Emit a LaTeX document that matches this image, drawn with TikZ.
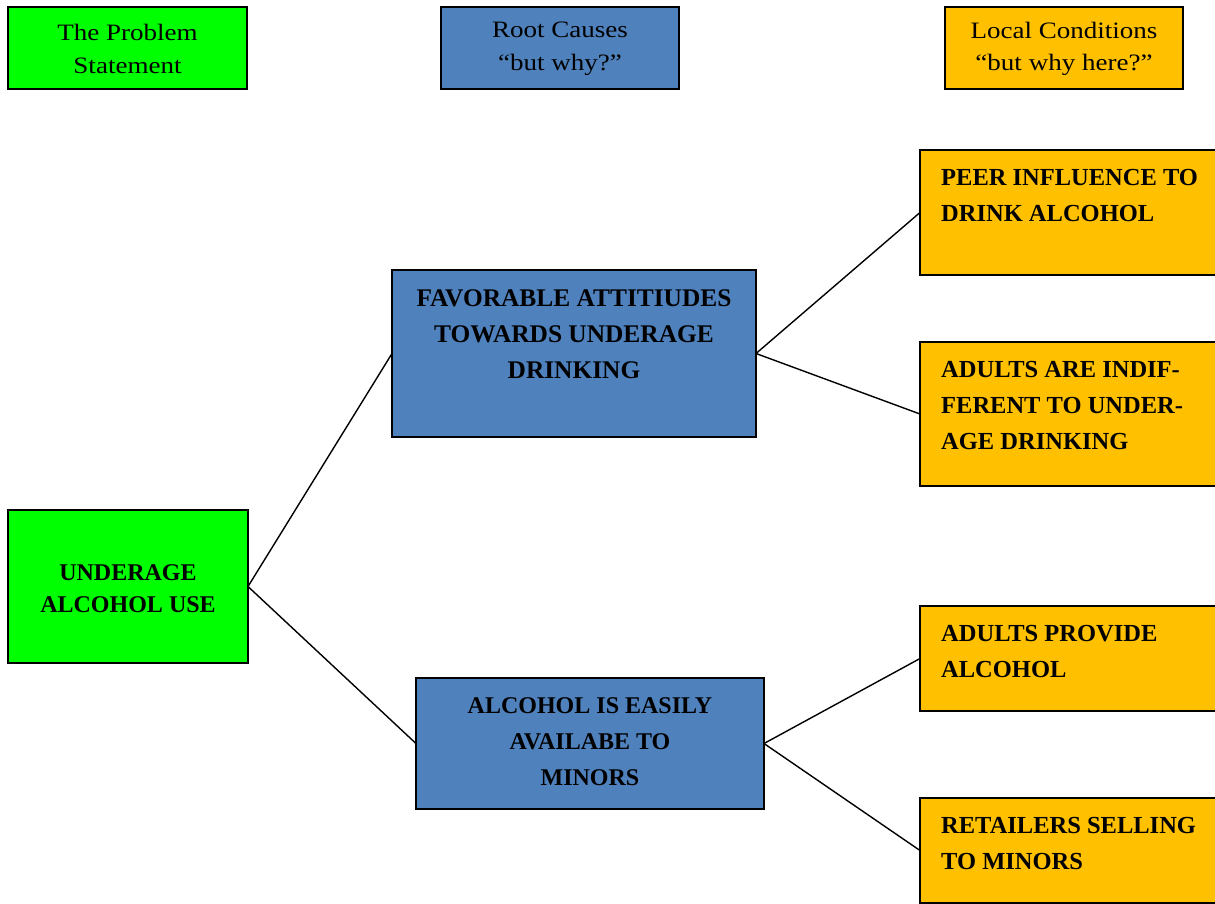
\documentclass[tikz,border=0pt]{standalone}
\usepackage{fontspec}
\setmainfont{Liberation Serif}
\newfontfamily\hdrfont[FakeStretch=1.15]{Liberation Serif}
\definecolor{cgreen}{HTML}{00FF00}
\definecolor{cblue}{HTML}{4F81BD}
\definecolor{corange}{HTML}{FFC000}
\tikzset{
  box/.style={draw=black, line width=2pt, inner sep=0pt, outer sep=0pt, anchor=north west},
  hdrtxt/.style={font=\hdrfont\fontsize{23.5}{32.5}\selectfont, align=center, inner sep=0pt},
  ctxt/.style={font=\bfseries\fontsize{24.5}{36}\selectfont, align=center, inner sep=0pt},
  ltxt/.style={font=\bfseries\fontsize{24.5}{36}\selectfont, align=left, inner sep=0pt, anchor=north west},
  conn/.style={line width=1.4pt, black},
}
\begin{document}
\begin{tikzpicture}[x=1pt,y=-1pt]
\useasboundingbox (0,0) rectangle (1215,903);
\clip (0,0) rectangle (1215,903);
% headers
\node[box, fill=cgreen, minimum width=239pt, minimum height=82pt] (h1) at (8,7) {};
\node[hdrtxt] (h1t) at ([yshift=-1pt]h1.center) {The Problem\\Statement};
\node[box, fill=cblue, minimum width=238pt, minimum height=82pt] (h2) at (441,7) {};
\node[hdrtxt] (h2t) at ([yshift=-1pt]h2.center) {Root Causes\\“but why?”};
\node[box, fill=corange, minimum width=238pt, minimum height=82pt] (h3) at (945,7) {};
\node[hdrtxt] (h3t) at ([yshift=-1pt]h3.center) {Local Conditions\\“but why here?”};
% main
\node[box, fill=cgreen, minimum width=240pt, minimum height=153pt] (main) at (8,510) {};
\node[ctxt, font=\bfseries\fontsize{24}{32}\selectfont] (maint) at ([yshift=-2pt]main.center) {UNDERAGE\\ALCOHOL USE};
% root causes
\node[box, fill=cblue, minimum width=364pt, minimum height=167pt] (rc1) at (392,270) {};
\node[ctxt, font=\bfseries\fontsize{25.4}{36}\selectfont, anchor=center] (rc1t) at (574,334) {FAVORABLE ATTITIUDES\\TOWARDS UNDERAGE\\DRINKING};
\node[box, fill=cblue, minimum width=348pt, minimum height=131pt] (rc2) at (416,678) {};
\node[ctxt, font=\bfseries\fontsize{24}{36}\selectfont, anchor=center] (rc2t) at (590,742) {ALCOHOL IS EASILY\\AVAILABE TO\\MINORS};
% local conditions
\node[box, fill=corange, minimum width=320pt, minimum height=125pt] (lc1) at (920,150) {};
\node[ltxt] (lc1t) at (941,169) {PEER INFLUENCE TO\\DRINK ALCOHOL};
\node[box, fill=corange, minimum width=320pt, minimum height=144pt] (lc2) at (920,342) {};
\node[ltxt] (lc2t) at (941,361) {ADULTS ARE INDIF-\\FERENT TO UNDER-\\AGE DRINKING};
\node[box, fill=corange, minimum width=320pt, minimum height=105pt] (lc3) at (920,606) {};
\node[ltxt] (lc3t) at (941,625) {ADULTS PROVIDE\\ALCOHOL};
\node[box, fill=corange, minimum width=320pt, minimum height=105pt] (lc4) at (920,798) {};
\node[ltxt] (lc4t) at (941,817) {RETAILERS SELLING\\TO MINORS};
% connectors
\draw[conn] (main.east) -- (rc1.west);
\draw[conn] (main.east) -- (rc2.west);
\draw[conn] (rc1.east) -- (lc1.west);
\draw[conn] (rc1.east) -- (lc2.west);
\draw[conn] (rc2.east) -- (lc3.west);
\draw[conn] (rc2.east) -- (lc4.west);
\end{tikzpicture}
\end{document}
